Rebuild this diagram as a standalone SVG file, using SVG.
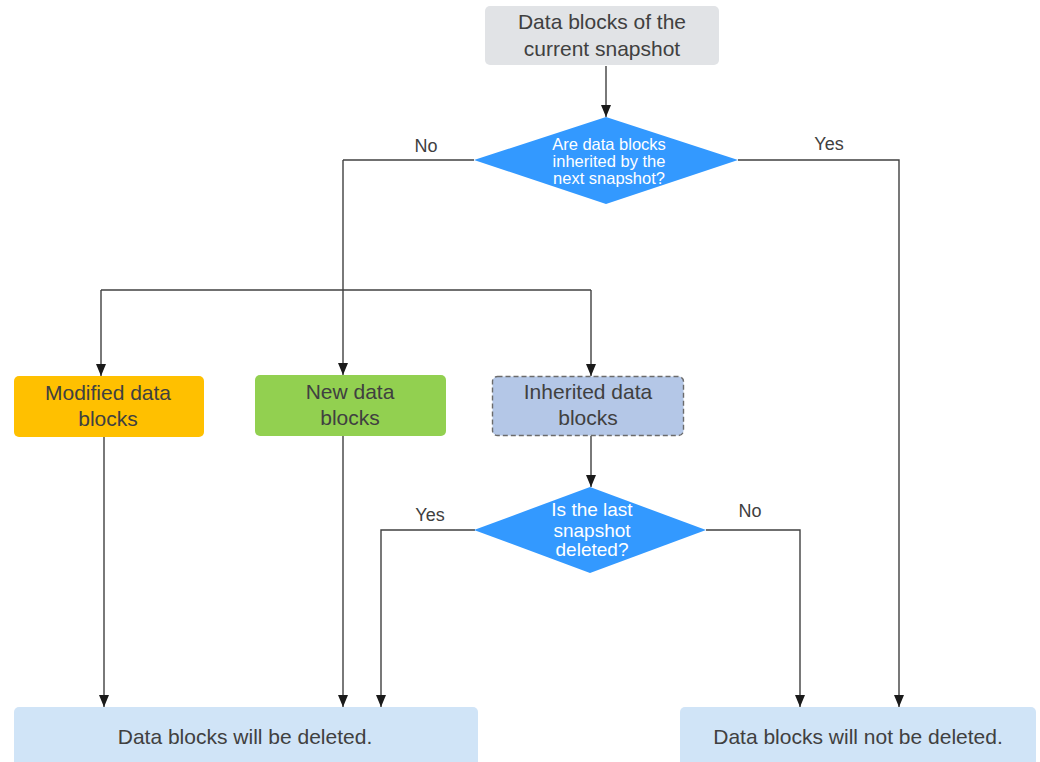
<svg xmlns="http://www.w3.org/2000/svg" width="1040" height="762" viewBox="0 0 1040 762">
  <defs>
    <marker id="head" viewBox="0 0 12 10" refX="12" refY="5" markerWidth="12" markerHeight="10" markerUnits="userSpaceOnUse" orient="auto">
      <path d="M0,0 L12,5 L0,10 Z" fill="#1a1a1a"/>
    </marker>
  </defs>
  <style>
    text { font-family: "Liberation Sans", Arial, sans-serif; fill: #404040; text-anchor: middle; }
    .box { font-size: 21px; }
    .dec { font-size: 16.5px; fill: #ffffff; }
    .dec2 { font-size: 19px; fill: #ffffff; }
    .lbl { font-size: 18px; }
    .wire { fill: none; stroke: #404040; stroke-width: 1.4; }
    .arr { marker-end: url(#head); }
  </style>
  <rect width="1040" height="762" fill="#ffffff"/>

  <!-- connectors -->
  <g id="connectors">
    <path class="wire arr" d="M606,66 V117"/>
    <!-- "No" branch: fan-out to the three block categories -->
    <path class="wire" d="M474,160 H343"/>
    <path class="wire arr" d="M343,160 V375"/>
    <path class="wire" d="M101,290 H591"/>
    <path class="wire arr" d="M101,290 V376"/>
    <path class="wire arr" d="M591,290 V376"/>
    <!-- "Yes" branch -->
    <path class="wire arr" d="M738,160 H899 V707"/>
    <!-- down to the outcomes -->
    <path class="wire arr" d="M104,437 V707"/>
    <path class="wire arr" d="M343,436 V707"/>
    <path class="wire arr" d="M591,436 V487"/>
    <path class="wire arr" d="M475,530 H381 V707"/>
    <path class="wire arr" d="M706,530 H800 V707"/>
    <text class="lbl" x="426" y="152">No</text>
    <text class="lbl" x="829" y="150">Yes</text>
    <text class="lbl" x="430" y="521">Yes</text>
    <text class="lbl" x="750" y="517">No</text>
  </g>

  <g id="current">
    <rect x="485" y="6" width="234" height="59" rx="5" fill="#e1e3e6"/>
    <text class="box" x="602" y="29">Data blocks of the</text>
    <text class="box" x="602" y="56">current snapshot</text>
  </g>

  <g id="inherited-check">
    <polygon points="606,117 738,160 606,204 474,160" fill="#3399ff"/>
    <text class="dec" x="609" y="149.5">Are data blocks</text>
    <text class="dec" x="609" y="166.5">inherited by the</text>
    <text class="dec" x="609" y="183.5">next snapshot?</text>
  </g>

  <g id="modified">
    <rect x="14" y="376" width="190" height="61" rx="5" fill="#ffc000"/>
    <text class="box" x="108" y="400">Modified data</text>
    <text class="box" x="108" y="426">blocks</text>
  </g>

  <g id="new">
    <rect x="255" y="375" width="191" height="61" rx="5" fill="#92d050"/>
    <text class="box" x="350" y="399">New data</text>
    <text class="box" x="350" y="425">blocks</text>
  </g>

  <g id="inherited">
    <rect x="492.5" y="376.5" width="191" height="59" rx="5" fill="#b4c7e7" stroke="#6b6b6b" stroke-width="1.4" stroke-dasharray="5,3"/>
    <text class="box" x="588" y="399">Inherited data</text>
    <text class="box" x="588" y="425">blocks</text>
  </g>

  <g id="last-check">
    <polygon points="590,487 706,530 590,573 474,530" fill="#3399ff"/>
    <text class="dec2" x="592" y="516">Is the last</text>
    <text class="dec2" x="592" y="537">snapshot</text>
    <text class="dec2" x="592" y="556">deleted?</text>
  </g>

  <g id="deleted">
    <rect x="14" y="707" width="464" height="60" rx="5" fill="#d0e4f7"/>
    <text class="box" x="245" y="744">Data blocks will be deleted.</text>
  </g>

  <g id="kept">
    <rect x="680" y="707" width="356" height="60" rx="5" fill="#d0e4f7"/>
    <text class="box" x="858" y="744">Data blocks will not be deleted.</text>
  </g>
</svg>
